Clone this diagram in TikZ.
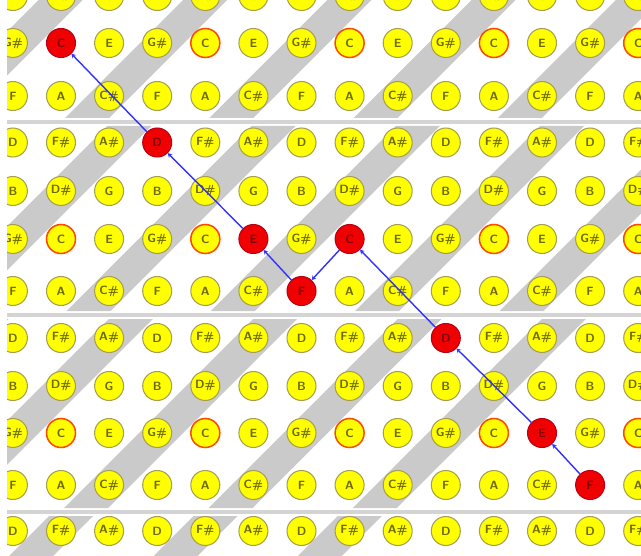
\documentclass[tikz,border=0pt]{standalone}
\usepackage{amsmath}
\usepackage{tikz}
\usetikzlibrary{arrows.meta}
\usetikzlibrary{calc}

\definecolor{keyyellow}{RGB}{255,255,0}
\definecolor{keyrim}{RGB}{165,160,80}
\definecolor{keytext}{RGB}{110,105,0}
\definecolor{rootrim}{RGB}{255,75,0}
\definecolor{hitred}{RGB}{240,0,0}
\definecolor{hitrim}{RGB}{185,0,20}
\definecolor{hittext}{RGB}{125,0,0}
\definecolor{stripegray}{RGB}{202,202,202}
\definecolor{rulegray}{RGB}{212,212,212}
\definecolor{pathblue}{RGB}{50,50,255}

% note name from its index in the lattice
\newcommand\notename[1]{\ifcase#1 B\or D\#\or G\or G\#\or C\or E\or F\or A\or C\#\or D\or F\#\or A\#\fi}

\begin{document}
\begin{tikzpicture}[x=0.05cm, y=-0.05cm,
    key/.style={circle, draw=keyrim, fill=keyyellow, line width=1.5pt, minimum size=1.45cm, inner sep=0pt, text=keytext, font=\sffamily\bfseries\fontsize{17}{17}\selectfont},
    root/.style={key, draw=rootrim, line width=2.2pt},
    hit/.style={key, draw=hitrim, fill=hitred, text=hittext},
    move/.style={pathblue, line width=2pt, -{Stealth[length=6pt, width=7pt]}}]
        \useasboundingbox (0,0) rectangle (641,556);
        \clip (7,0) rectangle (641,556);

        % Draw the diagonal bands, one set per block of four rows
        \foreach \ya/\yb/\k in {0/118/205, 126/311/111, 319/508/17, 516/556/10}
        {
          \begin{scope}
            \clip (0,\ya) rectangle (641,\yb);
            \foreach \m in {-1,...,6}
            {
              \pgfmathsetmacro\kk{\k+144.3*\m}
              \fill[stripegray] (\kk-22-\ya,\ya) -- (\kk+22-\ya,\ya) -- (\kk+22-\yb,\yb) -- (\kk-22-\yb,\yb) -- cycle;
            }
          \end{scope}
        }

        % Draw the horizontal rules between the blocks
        \foreach \yr in {122,315,512}
          \fill[rulegray] (0,\yr-2) rectangle (641,\yr+2);

        % Draw the lattice of notes
        \foreach \r/\y in {0/-4, 1/43, 2/96, 3/142.5, 4/191, 5/239, 6/291, 7/338, 8/386, 9/433, 10/485, 11/531}
        {
          \foreach \c in {0,...,13}
          {
            \pgfmathsetmacro\x{12.9+48.1*\c}
            \pgfmathtruncatemacro\k{3*mod(\r,4)+mod(\c,3)}
            \pgfmathtruncatemacro\ishit{((\c==\r)&&(\c==1||\c==3||\c==5||\c==6)) || ((\c==\r+2)&&(\r==5||\r==7||\r==9||\r==10))}
            \ifnum\ishit=1
              \node[hit] (n-\c-\r) at (\x,\y) {\notename{\k}};
            \else\ifnum\k=4
              \node[root] (n-\c-\r) at (\x,\y) {\notename{\k}};
            \else
              \node[key] (n-\c-\r) at (\x,\y) {\notename{\k}};
            \fi\fi
          }
        }

        % Draw the path through the red notes
        \draw[move] (n-12-10) -- (n-11-9);
        \draw[move] (n-11-9) -- (n-9-7);
        \draw[move] (n-9-7) -- (n-7-5);
        \draw[move] (n-7-5) -- (n-6-6);
        \draw[move] (n-6-6) -- (n-5-5);
        \draw[move] (n-5-5) -- (n-3-3);
        \draw[move] (n-3-3) -- (n-1-1);
      \end{tikzpicture}
\end{document}
